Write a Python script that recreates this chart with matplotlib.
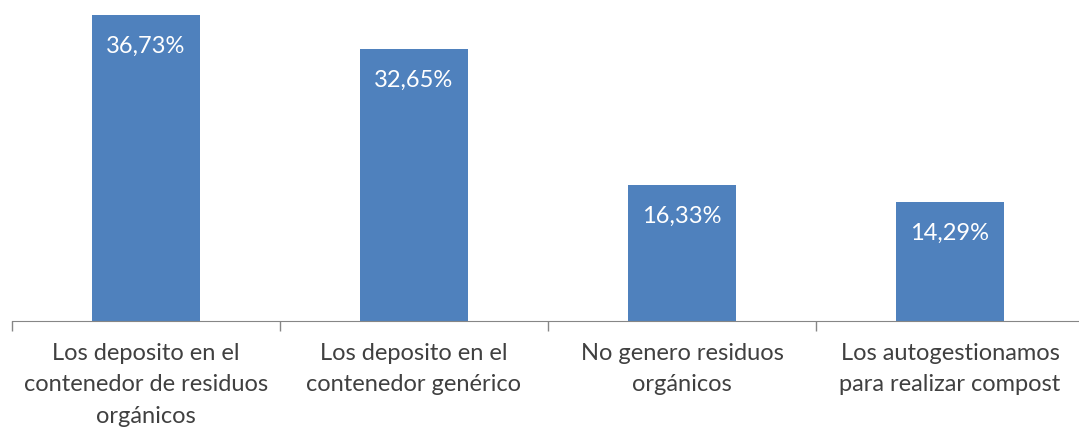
import matplotlib.pyplot as plt

categories = ["Los deposito en el\ncontenedor de residuos\norgánicos",
              "Los deposito en el\ncontenedor genérico",
              "No genero residuos\norgánicos",
              "Los autogestionamos\npara realizar compost"]
values = [36.73, 32.65, 16.33, 14.29]
labels = ["36,73%", "32,65%", "16,33%", "14,29%"]

plt.rcParams['font.family'] = ['Lato', 'DejaVu Sans']

fig = plt.figure(figsize=(10.79, 4.30), dpi=100)
ax = fig.add_axes([12 / 1079, 109 / 430, 1072 / 1079, 321 / 430])

x = range(len(values))
bars = ax.bar(x, values, width=0.4, color="#4f81bd")

for b, lab in zip(bars, labels):
    ax.annotate(lab, (b.get_x() + b.get_width() / 2, b.get_height()),
                xytext=(0, -31), textcoords="offset pixels",
                ha="center", va="center", color="white", fontsize=17)

ax.set_xlim(-0.5, 3.5)
ax.set_ylim(0, 36.73 * 321 / 306)
ax.set_xticks([-0.5, 0.5, 1.5, 2.5, 3.5])
ax.set_xticklabels([])
ax.set_xticks(list(x), minor=True)
ax.set_xticklabels(categories, minor=True, fontsize=17, color="#404040",
                   linespacing=1.6)
ax.tick_params(axis="x", which="major", length=7, width=1, color="#868686", direction="out")
ax.tick_params(axis="x", which="minor", length=0, pad=16)
ax.set_yticks([])
for s in ["top", "right", "left"]:
    ax.spines[s].set_visible(False)
ax.spines["bottom"].set_color("#868686")

fig.savefig("out.png", dpi=100)
